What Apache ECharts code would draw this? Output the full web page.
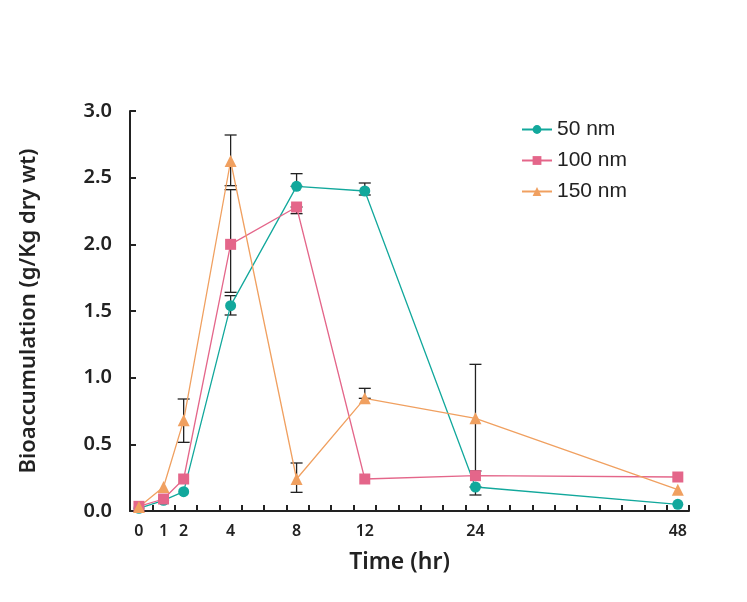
<!DOCTYPE html>
<html>
<head>
<meta charset="utf-8">
<script src="https://cdn.jsdelivr.net/npm/echarts@6/dist/echarts.min.js"></script>
<style>
  html, body { margin: 0; padding: 0; background: #fff; }
  #chart { width: 747px; height: 602px; }
</style>
</head>
<body>
<div id="chart"></div>
<script>
// sampling times (hr) and where each one sits on the hand-drawn axis (axis runs 0..25 minor ticks)
const times = [0, 1, 2, 4, 8, 12, 24, 48];
const timeSlots = [0.4, 1.5, 2.4, 4.5, 7.45, 10.5, 15.45, 24.5];

const seriesNames = ['50 nm', '100 nm', '150 nm'];
const nm50 = [0.02, 0.08, 0.145, 1.54, 2.435, 2.40, 0.18, 0.05];
const nm100 = [0.035, 0.09, 0.24, 2.0, 2.28, 0.24, 0.265, 0.255];
const nm150 = [0.03, 0.18, 0.68, 2.625, 0.24, 0.845, 0.695, 0.16];

// error bars: [time index, low, high]
const err50 = [[3, 1.47, 1.615], [4, 2.435, 2.53], [5, 2.37, 2.46], [6, 0.12, 0.18]];
const err100 = [[3, 1.64, 2.41], [4, 2.23, 2.28]];
const err150 = [[2, 0.515, 0.84], [3, 2.44, 2.82], [4, 0.14, 0.36], [5, 0.845, 0.92], [6, 0.30, 1.10]];

const colors = ['#12a89c', '#e4668a', '#f0a060'];
const symbols = ['circle', 'rect', 'triangle'];
const sizes = [11, 11, 12];
const font = '"Noto Sans", "Open Sans", sans-serif';

const chart = echarts.init(document.getElementById('chart'));

const toPoints = vals => vals.map((v, i) => [timeSlots[i], v]);
const toErr = list => list.map(e => [timeSlots[e[0]], e[1], e[2]]);

const errSeries = data => ({
  type: 'custom',
  silent: true,
  z: 1,
  data: toErr(data),
  encode: { x: 0, y: [1, 2] },
  renderItem: (params, api) => {
    const lo = api.coord([api.value(0), api.value(1)]);
    const hi = api.coord([api.value(0), api.value(2)]);
    const w = 6;
    const style = { stroke: '#222', lineWidth: 1.3 };
    return {
      type: 'group',
      children: [
        { type: 'line', shape: { x1: lo[0], y1: lo[1], x2: hi[0], y2: hi[1] }, style },
        { type: 'line', shape: { x1: lo[0] - w, y1: lo[1], x2: lo[0] + w, y2: lo[1] }, style },
        { type: 'line', shape: { x1: hi[0] - w, y1: hi[1], x2: hi[0] + w, y2: hi[1] }, style }
      ]
    };
  }
});

const lineSeries = (name, vals, k) => ({
  name: name,
  type: 'line',
  z: 3,
  data: toPoints(vals),
  symbol: symbols[k],
  symbolSize: sizes[k],
  showAllSymbol: true,
  lineStyle: { color: colors[k], width: 1.3 },
  itemStyle: { color: colors[k] }
});

chart.setOption({
  animation: false,
  grid: { left: 130, right: 58, top: 111, bottom: 91 },
  legend: {
    orient: 'vertical',
    left: 516,
    top: 114,
    itemWidth: 30,
    itemHeight: 11,
    itemGap: 10,
    data: seriesNames,
    textStyle: { fontSize: 21, color: '#222', fontFamily: '"Liberation Sans", Arial, sans-serif' }
  },
  xAxis: {
    type: 'value',
    min: 0,
    max: 25,
    interval: 1,
    name: 'Time (hr)',
    nameLocation: 'middle',
    nameGap: 40,
    nameTextStyle: { fontSize: 23, fontWeight: 600, color: '#222', fontFamily: font, padding: [0, 20, 0, 0] },
    splitLine: { show: false },
    axisLine: { lineStyle: { color: '#222', width: 2 } },
    axisTick: {
      inside: true,
      length: 6,
      lineStyle: { color: '#222', width: 2 },
      customValues: Array.from({ length: 25 }, (_, i) => i + 1)
    },
    axisLabel: {
      customValues: timeSlots,
      formatter: v => String(times[timeSlots.indexOf(v)]),
      fontSize: 16,
      fontWeight: 600,
      color: '#222',
      margin: 12,
      fontFamily: font
    }
  },
  yAxis: {
    type: 'value',
    min: 0,
    max: 3,
    interval: 0.5,
    name: 'Bioaccumulation (g/Kg dry wt)',
    nameLocation: 'middle',
    nameGap: 90,
    nameTextStyle: { fontSize: 22, fontWeight: 600, color: '#222', fontFamily: font },
    splitLine: { show: false },
    axisLine: { show: true, lineStyle: { color: '#222', width: 2 } },
    axisTick: { inside: true, length: 6, lineStyle: { color: '#222', width: 2 } },
    axisLabel: {
      formatter: v => v.toFixed(1),
      fontSize: 20,
      fontWeight: 600,
      color: '#222',
      margin: 18,
      fontFamily: font
    }
  },
  series: [
    errSeries(err50),
    errSeries(err100),
    errSeries(err150),
    lineSeries(seriesNames[0], nm50, 0),
    lineSeries(seriesNames[1], nm100, 1),
    lineSeries(seriesNames[2], nm150, 2)
  ]
});
</script>
</body>
</html>
